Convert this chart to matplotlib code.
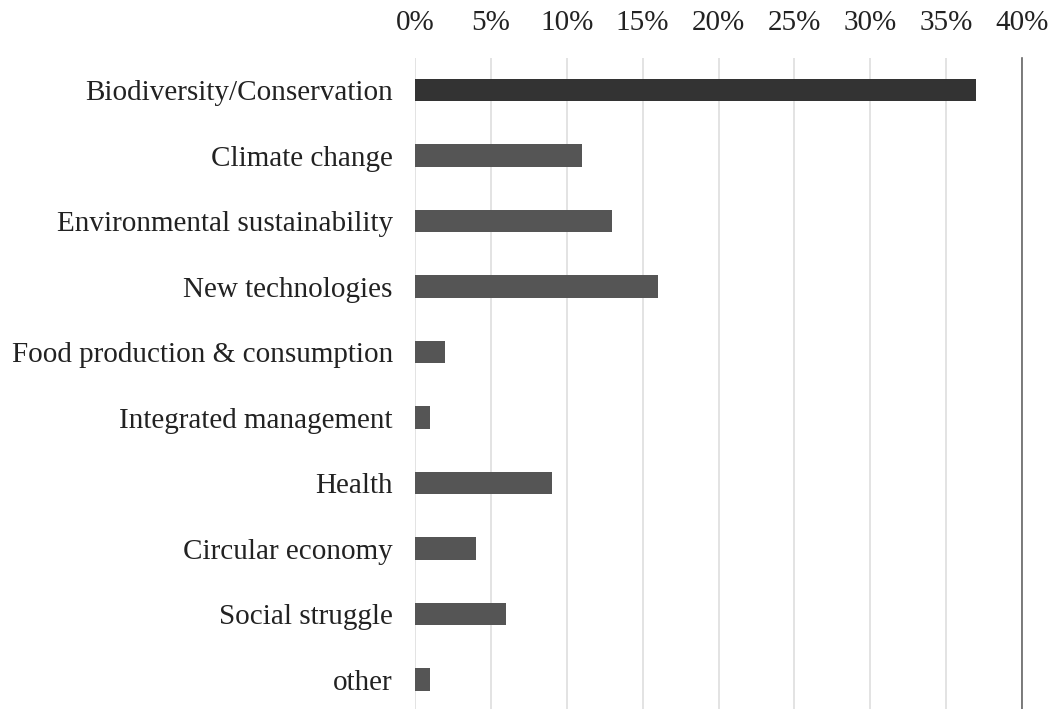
import matplotlib.pyplot as plt
from matplotlib.ticker import PercentFormatter

categories = [
    "Biodiversity/Conservation",
    "Climate change",
    "Environmental sustainability",
    "New technologies",
    "Food production & consumption",
    "Integrated management",
    "Health",
    "Circular economy",
    "Social struggle",
    "other",
]
values = [37, 11, 13, 16, 2, 1, 9, 4, 6, 1]
ticks = [0, 5, 10, 15, 20, 25, 30, 35, 40]

plt.rcParams['font.family'] = ['Liberation Serif', 'DejaVu Serif']

fig = plt.figure(figsize=(10.54, 7.09), dpi=100)
ax = fig.add_axes([415 / 1054, 0, 607 / 1054, 651 / 709])

colors = ['#333333'] + ['#555555'] * (len(values) - 1)
ax.barh(range(len(categories)), values, height=0.34, color=colors, zorder=3)

ax.set_xlim(0, 40)
ax.set_ylim(9.45, -0.49)
ax.set_xticks(ticks)
ax.xaxis.set_major_formatter(PercentFormatter(decimals=0))
ax.xaxis.tick_top()
ax.set_yticks(range(len(categories)))
ax.set_yticklabels(categories)
ax.tick_params(axis='both', length=0, labelsize=21, colors='#222222')
ax.tick_params(axis='x', pad=16)
ax.tick_params(axis='y', pad=16)

ax.grid(axis='x', color='#dedede', linewidth=1.2, zorder=0)
for s in ['top', 'bottom', 'left']:
    ax.spines[s].set_visible(False)
ax.spines['right'].set_color('#666666')
ax.spines['right'].set_linewidth(1.2)

fig.savefig('out.png', dpi=100)
